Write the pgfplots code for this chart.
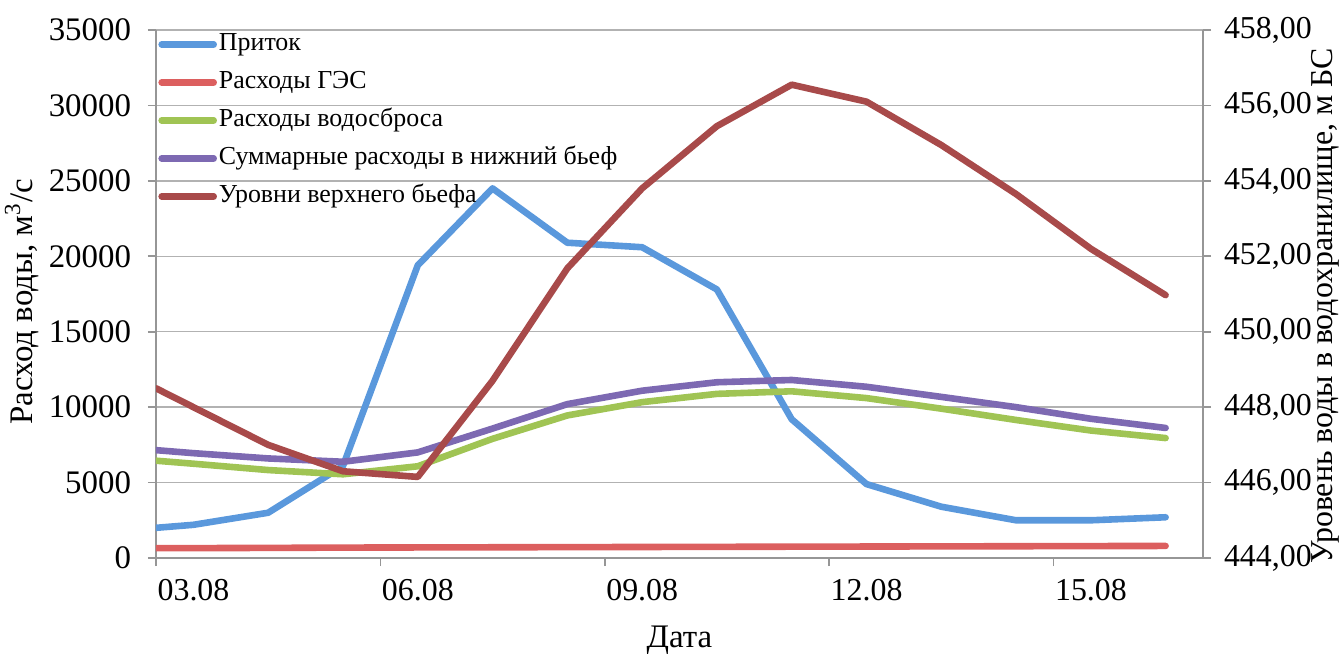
\documentclass[border=0pt]{standalone}
\usepackage{pgfplots}
\pgfplotsset{compat=1.18}
\usepackage{pgfplotstable}
\usepackage{fontspec}
\setmainfont{Liberation Serif}
\definecolor{cIn}{RGB}{90,152,220}
\definecolor{cHpp}{RGB}{220,95,95}
\definecolor{cSp}{RGB}{160,196,84}
\definecolor{cTot}{RGB}{125,105,178}
\definecolor{cLev}{RGB}{168,74,74}
\definecolor{cAx}{RGB}{150,150,150}

\pgfplotstableread{
x    inflow hpp spill total level
3.0  2000   650 6450  7150  448.50
3.5  2200   655 6250  6950  448.00
4.5  3000   670 5830  6600  447.00
5.5  6100   690 5550  6380  446.30
6.5  19400  700 6080  7000  446.15
7.5  24500  710 7900  8580  448.70
8.5  20900  720 9450  10200 451.68
9.5  20600  730 10330 11090 453.80
10.5 17800  740 10880 11650 455.45
11.5 9200   750 11050 11800 456.55
12.5 4900   760 10600 11350 456.10
13.5 3400   770 9900  10680 454.95
14.5 2500   780 9150  10000 453.65
15.5 2500   790 8450  9230  452.20
16.5 2700   800 7950  8620  450.97
}\data

\begin{document}
\begin{tikzpicture}[font=\fontsize{16.5}{18}\selectfont]
\useasboundingbox (-78bp,-49.5bp) rectangle (593bp,279bp);
\pgfplotsset{
  common/.style={
    scale only axis, width=523.5bp, height=264bp,
    xmin=3, xmax=17,
    tick align=outside, major tick length=4bp,
    axis line style={cAx, line width=0.8bp},
    tick style={cAx, line width=0.8bp},
    every axis plot/.append style={line width=3.3bp, line join=round, line cap=round},
  }
}
\begin{axis}[common,
  ymin=0, ymax=35000,
  axis x line*=bottom, axis y line*=left,
  xtick={3,6,9,12,15},
  xticklabels={03.08,06.08,09.08,12.08,15.08},
  xticklabel style={xshift=18.75bp, yshift=-3bp, font=\fontsize{16}{18}\selectfont},
  ytick={0,5000,...,35000},
  scaled y ticks=false,
  /pgf/number format/fixed,
  /pgf/number format/1000 sep={},
  /pgf/number format/assume math mode=true,
  yticklabel style={xshift=-5bp},
  ymajorgrids, grid style={gray!60, line width=0.7bp},
  xlabel={Дата},
  xlabel style={at={(axis description cs:0.5,0)}, anchor=center, yshift=-41bp},
  ylabel={Расход воды, м\textsuperscript{3}/с},
  ylabel style={at={(axis description cs:0,0.5)}, anchor=center, yshift=67bp, xshift=-4bp},
  legend cell align=left,
  legend style={at={(rel axis cs:0,1)}, anchor=north west, xshift=1bp,
    draw=none, fill=none, inner sep=0bp, row sep=5bp,
    font=\fontsize{13}{15}\selectfont,
    nodes={text height=9bp, text depth=3bp, inner sep=1bp}},
  legend image code/.code={\draw[#1, line width=3.3bp, line cap=round] (0bp,0bp) -- (26bp,0bp);},
]
\addplot[cIn, no marks] table[x=x, y=inflow] {\data};
\addlegendentry{Приток}
\addplot[cHpp, no marks] table[x=x, y=hpp] {\data};
\addlegendentry{Расходы ГЭС}
\addplot[cSp, no marks] table[x=x, y=spill] {\data};
\addlegendentry{Расходы водосброса}
\addplot[cTot, no marks] table[x=x, y=total] {\data};
\addlegendentry{Суммарные расходы в нижний бьеф}
\addlegendimage{cLev}
\addlegendentry{Уровни верхнего бьефа}
\end{axis}
\begin{axis}[common,
  ymin=444, ymax=458,
  axis x line=none, axis y line*=right,
  ytick={444,446,...,458},
  yticklabels={{444,00},{446,00},{448,00},{450,00},{452,00},{454,00},{456,00},{458,00}},
  yticklabel style={xshift=3bp, font=\fontsize{16}{18}\selectfont},
  ylabel={Уровень воды в водохранилище, м БС},
  ylabel style={at={(axis description cs:1,0.5)}, anchor=center, yshift=-61bp, xshift=-6bp, font=\fontsize{16}{18}\selectfont},
]
\addplot[cLev, no marks] table[x=x, y=level] {\data};
\end{axis}
\end{tikzpicture}
\end{document}
